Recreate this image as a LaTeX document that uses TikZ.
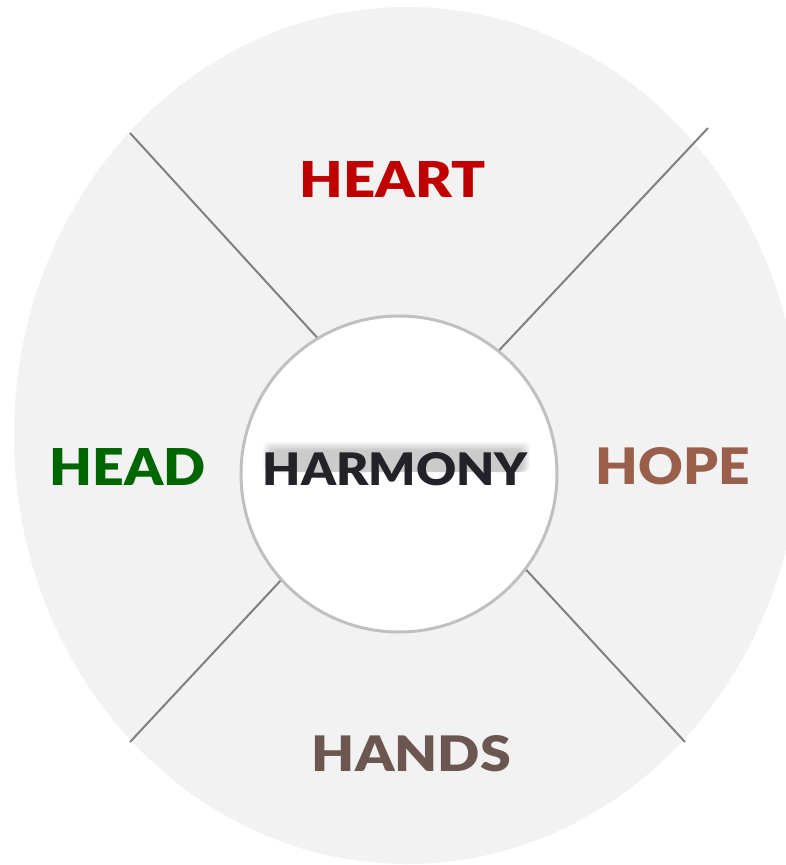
\documentclass[tikz,border=0pt]{standalone}
\usepackage{fontspec}
\setmainfont{Lato}[BoldFont={Lato Black}]
\usepackage{graphicx}
\definecolor{bgfill}{HTML}{F2F2F2}
\definecolor{divgray}{HTML}{808080}
\definecolor{ringgray}{HTML}{C0C0C0}
\definecolor{heartred}{HTML}{C00000}
\definecolor{headgreen}{HTML}{006600}
\definecolor{hopebrown}{HTML}{9A5F4A}
\definecolor{handsbrown}{HTML}{6B5750}
\definecolor{harmdark}{HTML}{222228}
\tikzset{
  divider/.style={draw=divgray, line width=2pt},
  hub/.style={circle, draw=ringgray, line width=3pt, fill=white, minimum size=316pt, inner sep=0pt},
  label/.style={inner sep=0pt, font=\bfseries},
  blurband/.style={fill=black, opacity=0.035, rounded corners=6pt},
}
\newcommand{\fitword}[3]{\resizebox{#1pt}{#2pt}{#3}}
\begin{document}
\begin{tikzpicture}[x=1pt,y=-1pt]
\useasboundingbox (0,0) rectangle (785,865);
\fill[bgfill] (407,435.5) ellipse [x radius=393, y radius=428.5];
\node[hub] (c) at (399,474) {};
\coordinate (tl) at (130,133);
\coordinate (tr) at (708,128);
\coordinate (bl) at (130,742);
\coordinate (br) at (685,742);
\draw[divider] (tl) -- (c.121);
\draw[divider] (tr) -- (c.51);
\draw[divider] (bl) -- (c.222.5);
\draw[divider] (br) -- (c.323.3);
\foreach \k in {0,1.5,...,7.5} {
  \fill[blurband] (263+\k,442+\k) rectangle (530-\k,472);
}
\node[label, text=heartred] (heart) at (393,179.5) {\fitword{186}{36}{HEART}};
\node[label, text=headgreen] (head) at (127.5,466.5) {\fitword{156}{37}{HEAD}};
\node[label, text=hopebrown] (hope) at (673,466.5) {\fitword{154}{37}{HOPE}};
\node[label, text=handsbrown] (hands) at (411.5,754) {\fitword{199}{36}{HANDS}};
\node[label, text=harmdark] (harmony) at (395.5,469.5) {\fitword{265}{33}{HARMONY}};
\end{tikzpicture}
\end{document}
